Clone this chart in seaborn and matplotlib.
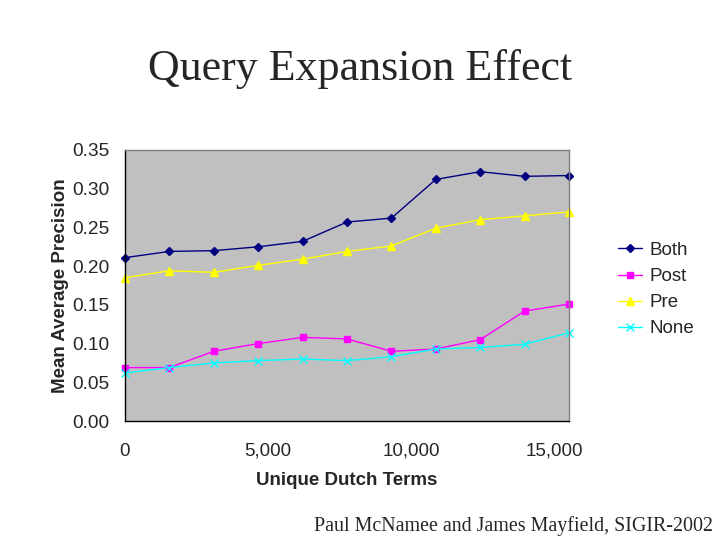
import matplotlib
matplotlib.use("Agg")
import matplotlib.pyplot as plt
import seaborn as sns
import pandas as pd

terms = [0, 1550, 3100, 4650, 6200, 7750, 9300, 10850, 12400, 13950, 15500]
both = [0.211, 0.219, 0.220, 0.225, 0.232, 0.257, 0.262, 0.312, 0.322, 0.316, 0.317]
post = [0.069, 0.069, 0.090, 0.100, 0.108, 0.106, 0.090, 0.093, 0.105, 0.142, 0.151]
pre = [0.185, 0.194, 0.192, 0.201, 0.209, 0.219, 0.226, 0.249, 0.260, 0.265, 0.270]
none = [0.062, 0.069, 0.075, 0.078, 0.080, 0.078, 0.083, 0.093, 0.095, 0.099, 0.114]
series_names = ["Both", "Post", "Pre", "None"]
xticks = [0, 5000, 10000, 15000]
xtick_labels = ["0", "5,000", "10,000", "15,000"]
yticks = [0.00, 0.05, 0.10, 0.15, 0.20, 0.25, 0.30, 0.35]

sns.set_style("white")
plt.rcParams['font.family'] = ['Liberation Sans', 'DejaVu Sans']

fig = plt.figure(figsize=(7.2, 5.4), dpi=100)
ax = fig.add_axes([125/720, 1-421/540, (569-125)/720, (421-150)/540])
ax.set_facecolor("#C0C0C0")

colors = {"Both": "#000080", "Post": "#FF00FF", "Pre": "#FFFF00", "None": "#00FFFF"}
markers = {"Both": "D", "Post": "s", "Pre": "^", "None": "x"}
msize = {"Both": 4, "Post": 5, "Pre": 6, "None": 6}
values = {"Both": both, "Post": post, "Pre": pre, "None": none}

for name in series_names:
    df = pd.DataFrame({"terms": terms, "map": values[name]})
    sns.lineplot(data=df, x="terms", y="map", ax=ax, color=colors[name],
                 marker=markers[name], markersize=msize[name], linewidth=1,
                 markeredgecolor=colors[name], markeredgewidth=1, label=name,
                 clip_on=False)

ax.set_xlim(0, 15500)
ax.set_ylim(0, 0.35)
ax.set_xticks(xticks)
ax.set_xticklabels(xtick_labels, fontsize=13.5)
ax.set_yticks(yticks)
ax.set_yticklabels([f"{v:.2f}" for v in yticks], fontsize=13.8)
ax.tick_params(axis='x', length=0, pad=15.5)
ax.tick_params(axis='y', length=0, pad=11)
ax.set_xlabel("Unique Dutch Terms", fontsize=13.5, fontweight='bold', labelpad=9)
ax.set_ylabel("Mean Average Precision", fontsize=13.5, fontweight='bold', labelpad=2.5)

for s in ["top", "right"]:
    ax.spines[s].set_color("#808080")
for s in ["left", "bottom"]:
    ax.spines[s].set_color("black")
for s in ax.spines.values():
    s.set_linewidth(1)

leg = ax.legend(loc="upper left", bbox_to_anchor=(601/720, 1-225/540),
                bbox_transform=fig.transFigure, frameon=False, fontsize=13.5,
                handlelength=1.3, handletextpad=0.4, labelspacing=0.48)

fig.text(0.5, 1-69/540, "Query Expansion Effect", ha="center", va="center",
         fontsize=31.7, family=["Liberation Serif", "DejaVu Serif"])
fig.text(713/720, 1-526/540, "Paul McNamee and James Mayfield, SIGIR-2002",
         ha="right", va="center", fontsize=14.4, family=["Liberation Serif", "DejaVu Serif"])

fig.savefig("out.png", dpi=100, facecolor="white")
